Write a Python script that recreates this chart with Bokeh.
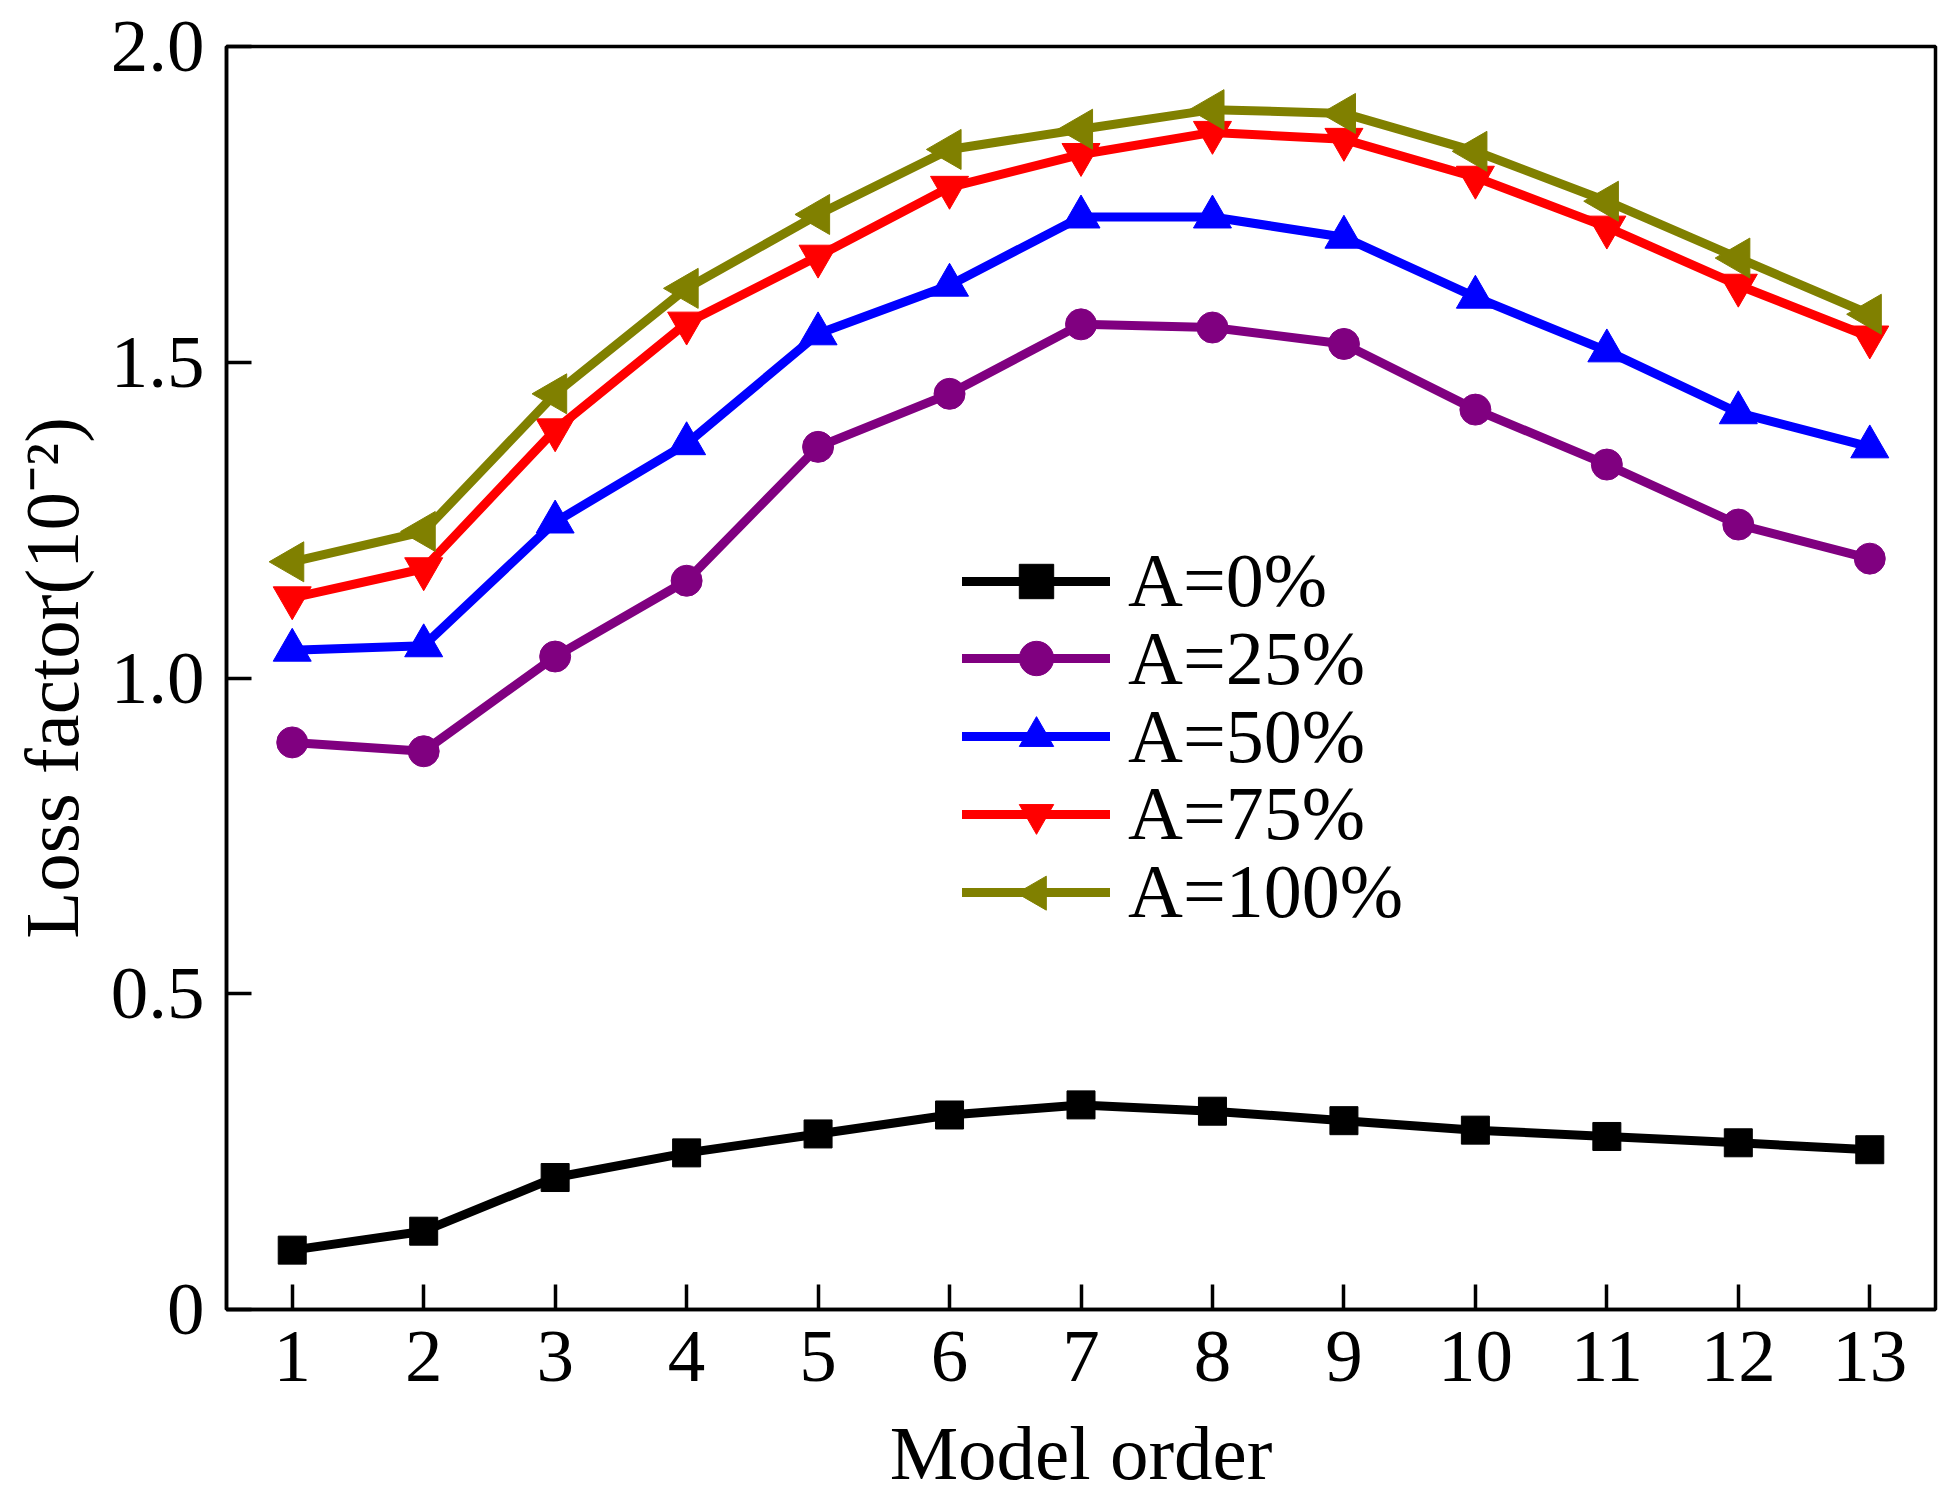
import math
from bokeh.plotting import figure
from bokeh.models import FixedTicker, Legend, LegendItem, Range1d
from bokeh.embed import file_html
from bokeh.resources import INLINE

# ---- data -------------------------------------------------------------
orders = list(range(1, 14))
labels = ["A=0%", "A=25%", "A=50%", "A=75%", "A=100%"]
a0 = [0.094, 0.124, 0.209, 0.248, 0.278, 0.308, 0.324, 0.314, 0.299, 0.284, 0.274, 0.264, 0.253]
a25 = [0.898, 0.884, 1.034, 1.154, 1.366, 1.450, 1.560, 1.555, 1.529, 1.425, 1.338, 1.243, 1.189]
a50 = [1.044, 1.051, 1.247, 1.371, 1.545, 1.622, 1.730, 1.730, 1.698, 1.603, 1.518, 1.420, 1.366]
a75 = [1.127, 1.173, 1.393, 1.562, 1.668, 1.777, 1.829, 1.864, 1.853, 1.793, 1.714, 1.622, 1.540]
a100 = [1.184, 1.232, 1.450, 1.617, 1.734, 1.837, 1.869, 1.900, 1.894, 1.834, 1.755, 1.665, 1.576]
y_ticks = [0, 0.5, 1.0, 1.5, 2.0]
y_tick_labels = ["0", "0.5", "1.0", "1.5", "2.0"]

# ---- styles -----------------------------------------------------------
series = [a0, a25, a50, a75, a100]
colors = ["#000000", "#800080", "#0000FF", "#FF0000", "#808000"]
markers = ["square", "circle", "triangle", "inverted_triangle", "triangle"]
sizes = [28, 31, 38, 38, 40]
angles = [0, 0, 0, 0, math.pi / 2]
in_legend_marker = [True, True, True, True, False]

FONT = "Liberation Serif"
W, H = 1952, 1498
MB_L, MB_R, MB_T, MB_B = 226, 17, 46, 187
FRAME_W = W - MB_L - MB_R
FRAME_H = H - MB_T - MB_B
LINE_W = 9

p = figure(width=W, height=H, output_backend="svg", toolbar_location=None,
           x_range=Range1d(0.5, 13.5), y_range=Range1d(0, 2.0),
           min_border_left=MB_L, min_border_right=MB_R, min_border_top=MB_T, min_border_bottom=MB_B,
           x_axis_label="Model order", y_axis_label="Loss factor(10\u207b\u00b2)")
p.grid.visible = False
p.background_fill_color = "white"
p.border_fill_color = "white"
p.outline_line_color = "black"
p.outline_line_width = 3.5

p.xaxis.ticker = FixedTicker(ticks=orders)
p.yaxis.ticker = FixedTicker(ticks=y_ticks)
p.yaxis.major_label_overrides = {t: l for t, l in zip(y_ticks, y_tick_labels)}
for ax in (p.xaxis, p.yaxis):
    ax.axis_line_width = 3.5
    ax.axis_line_color = "black"
    ax.major_tick_in = 25
    ax.major_tick_out = 0
    ax.major_tick_line_width = 3.5
    ax.major_tick_line_color = "black"
    ax.minor_tick_line_color = None
    ax.major_label_text_font = FONT
    ax.major_label_text_font_size = "75px"
    ax.major_label_text_color = "black"
    ax.axis_label_text_font = FONT
    ax.axis_label_text_font_size = "77px"
    ax.axis_label_text_font_style = "normal"
    ax.axis_label_text_color = "black"
p.yaxis.major_label_standoff = 22
p.yaxis.axis_label_standoff = 13
p.xaxis.major_label_standoff = 22
p.xaxis.axis_label_standoff = 26

# legend geometry (screen px, relative to the frame's bottom-left corner)
LEG_X, LEG_Y0 = 736, 374
ROW_H, ROW_PITCH = 86, 77.75
GLYPH_W = 148
KEY_SIZE = 34

n = len(labels)
for i, (lab, ys, c, m, s, a, keep) in enumerate(zip(labels, series, colors, markers, sizes, angles, in_legend_marker)):
    r1 = p.line(orders, ys, line_color=c, line_width=LINE_W, line_join="round", line_cap="round")
    r2 = p.scatter(orders, ys, marker=m, size=s, angle=a, fill_color=c, line_color=c, line_width=1)
    item = LegendItem(label=lab, renderers=[r1, r2] if keep else [r1])
    leg = Legend(items=[item], location=(LEG_X, LEG_Y0 + (n - 1 - i) * ROW_PITCH))
    leg.padding = 0
    leg.margin = 0
    leg.spacing = 0
    leg.border_line_color = None
    leg.background_fill_alpha = 0
    leg.glyph_width = GLYPH_W
    leg.glyph_height = ROW_H
    leg.label_height = ROW_H
    leg.label_standoff = 18
    leg.label_text_font = FONT
    leg.label_text_font_size = "76px"
    leg.label_text_color = "black"
    leg.label_text_baseline = "middle"
    p.add_layout(leg)

# left-pointing triangle key for the last legend row (legend keys ignore marker angle)
p.extra_x_ranges = {"px": Range1d(0, FRAME_W)}
p.extra_y_ranges = {"py": Range1d(0, FRAME_H)}
key_x = [LEG_X + GLYPH_W / 2]
key_y = [LEG_Y0 + ROW_H / 2]
p.scatter(key_x, key_y, x_range_name="px", y_range_name="py", marker="triangle",
          size=KEY_SIZE, angle=math.pi / 2, fill_color=colors[4], line_color=colors[4])

open("out.html", "w").write(file_html(p, INLINE))
